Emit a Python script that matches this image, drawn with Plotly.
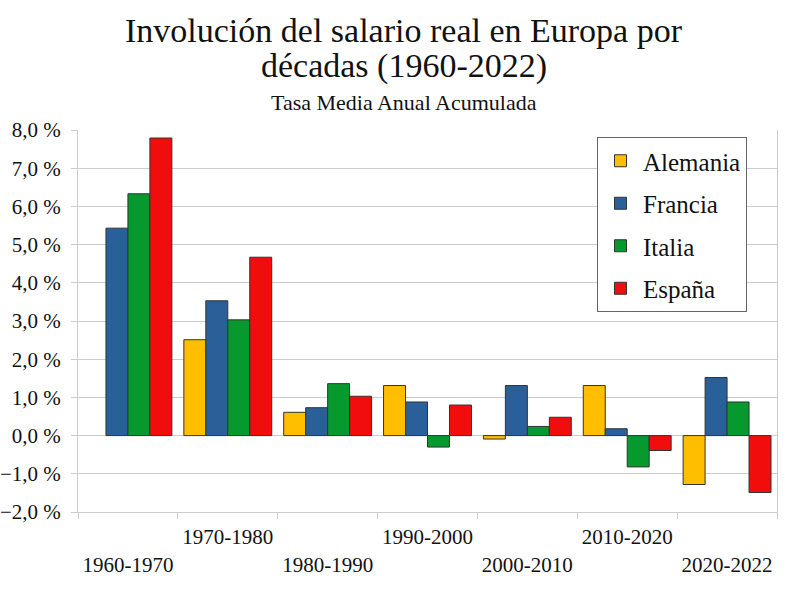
import plotly.graph_objects as go

categories = ["1960-1970", "1970-1980", "1980-1990", "1990-2000", "2000-2010", "2010-2020", "2020-2022"]
alemania = [None, 2.51, 0.61, 1.31, -0.09, 1.31, -1.28]
francia = [5.43, 3.53, 0.73, 0.88, 1.31, 0.18, 1.52]
italia = [6.33, 3.03, 1.36, -0.30, 0.24, -0.82, 0.88]
espana = [7.79, 4.67, 1.03, 0.80, 0.48, -0.39, -1.49]
series_names = ["Alemania", "Francia", "Italia", "España"]
colors = ["#FFBF00", "#2A6099", "#069A2E", "#F10D0C"]
title_lines = ["Involución del salario real en Europa por", "décadas (1960-2022)"]
subtitle = "Tasa Media Anual Acumulada"

# staggered tick labels
ticktext = [("<br>" + c) if i % 2 == 0 else (c + "<br> ") for i, c in enumerate(categories)]

serif = "Liberation Serif"
fig = go.Figure()
for name, vals, col in zip(series_names, [alemania, francia, italia, espana], colors):
    fig.add_trace(go.Bar(
        x=categories, y=vals, name=name, legendgroup=name,
        marker=dict(color=col, line=dict(color="#333333", width=1)),
    ))

PL, PR, PT, PB = 78, 777, 130, 512
def ypix(p):
    return (PB - p) / (PB - PT)
def xpix(p):
    return (p - PL) / (PR - PL)

annos = [
    dict(text=title_lines[0], y=ypix(30), font=dict(family=serif, size=34, color="#111111")),
    dict(text=title_lines[1], y=ypix(66), font=dict(family=serif, size=34, color="#111111")),
    dict(text=subtitle, y=ypix(103), font=dict(family=serif, size=22, color="#111111")),
]
for a in annos:
    a.update(xref="paper", yref="paper", x=xpix(404), xanchor="center", yanchor="middle", showarrow=False)

fig.update_layout(
    width=800, height=600,
    paper_bgcolor="white", plot_bgcolor="white",
    margin=dict(l=PL, r=800 - PR, t=PT, b=600 - PB, autoexpand=False),
    barmode="group", bargap=0.12, bargroupgap=0,
    separators=",.",
    font=dict(family=serif, color="#111111"),
    annotations=annos,
    legend=dict(
        x=xpix(597), y=ypix(137), xanchor="left", yanchor="top",
        bordercolor="#666666", borderwidth=1, bgcolor="white",
        font=dict(family=serif, size=25, color="#111111"),
        tracegroupgap=7, traceorder="grouped", itemwidth=35,
    ),
    showlegend=True,
)
fig.update_yaxes(
    range=[-2, 8], dtick=1, tick0=0, tickformat=".1f", ticksuffix=" %",
    showgrid=True, gridcolor="#CCCCCC", gridwidth=1,
    zeroline=True, zerolinecolor="#CCCCCC", zerolinewidth=1,
    showline=True, linecolor="#CCCCCC", linewidth=1, mirror=True,
    ticks="outside", ticklen=6, tickcolor="#CCCCCC", ticklabelstandoff=6,
    tickfont=dict(family=serif, size=21, color="#111111"),
    automargin=False,
)
fig.update_xaxes(
    tickvals=categories, ticktext=ticktext, tickangle=0,
    showline=True, linecolor="#CCCCCC", linewidth=1,
    ticks="outside", ticklen=6, tickcolor="#CCCCCC", tickson="boundaries",
    ticklabelstandoff=6,
    tickfont=dict(family=serif, size=21, color="#111111"),
    showgrid=False, automargin=False,
)
fig.write_html("out.html")
